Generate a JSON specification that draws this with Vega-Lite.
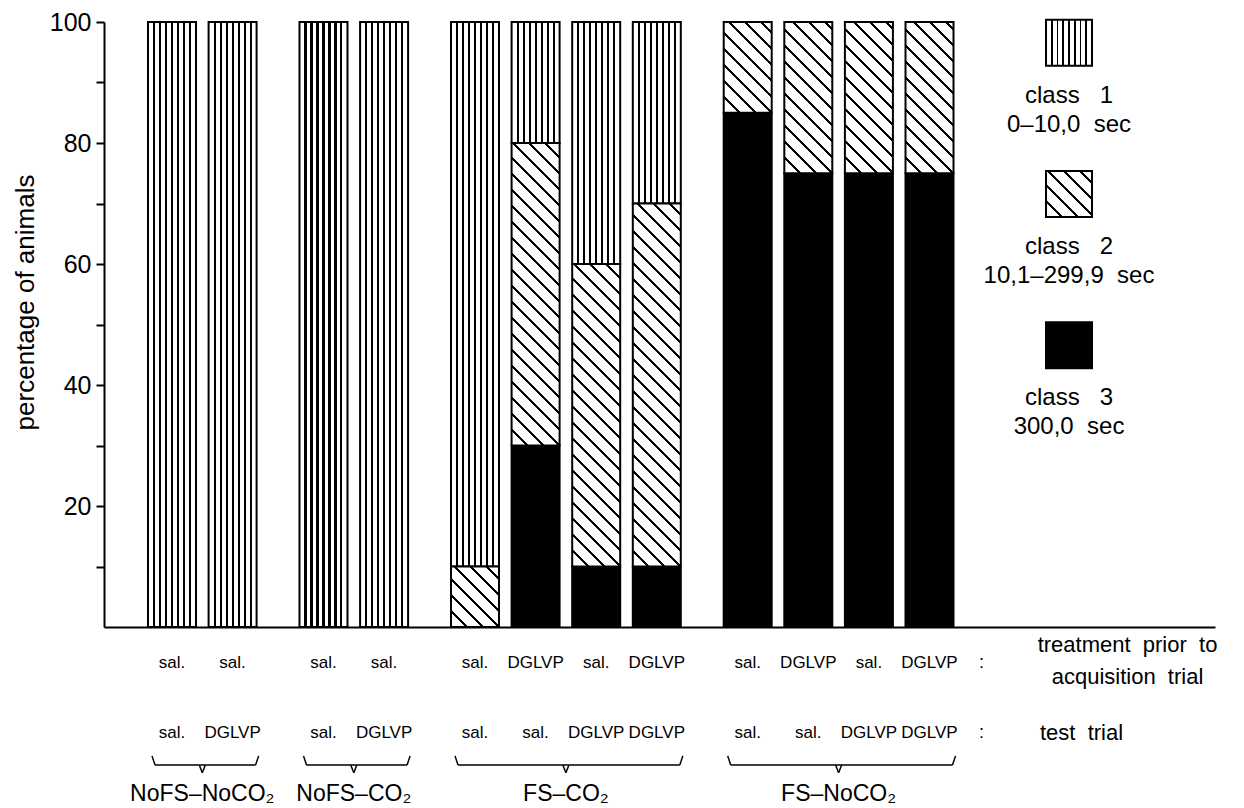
{
"$schema": "https://vega.github.io/schema/vega-lite/v6.json",
"width": 1111,
"height": 605,
"autosize": {"type": "none"},
"padding": {"left": 104, "top": 22, "right": 29, "bottom": 181},
"background": "white",
"config": {"view": {"stroke": null}, "font": "Liberation Sans", "text": {"color": "black"}},
"params": [
{"name": "vs", "value": [
{"offset":0,"color":"#fff"},
{"offset":0.104,"color":"#fff"},{"offset":0.104,"color":"#000"},{"offset":0.146,"color":"#000"},{"offset":0.146,"color":"#fff"},
{"offset":0.229,"color":"#fff"},{"offset":0.229,"color":"#000"},{"offset":0.271,"color":"#000"},{"offset":0.271,"color":"#fff"},
{"offset":0.354,"color":"#fff"},{"offset":0.354,"color":"#000"},{"offset":0.396,"color":"#000"},{"offset":0.396,"color":"#fff"},
{"offset":0.479,"color":"#fff"},{"offset":0.479,"color":"#000"},{"offset":0.521,"color":"#000"},{"offset":0.521,"color":"#fff"},
{"offset":0.604,"color":"#fff"},{"offset":0.604,"color":"#000"},{"offset":0.646,"color":"#000"},{"offset":0.646,"color":"#fff"},
{"offset":0.729,"color":"#fff"},{"offset":0.729,"color":"#000"},{"offset":0.771,"color":"#000"},{"offset":0.771,"color":"#fff"},
{"offset":0.854,"color":"#fff"},{"offset":0.854,"color":"#000"},{"offset":0.896,"color":"#000"},{"offset":0.896,"color":"#fff"},
{"offset":1,"color":"#fff"}]},
{"name": "hs", "value": [
{"offset":0,"color":"#fff"},
{"offset":0.0351,"color":"#fff"},{"offset":0.0351,"color":"#000"},{"offset":0.0419,"color":"#000"},{"offset":0.0419,"color":"#fff"},
{"offset":0.0735,"color":"#fff"},{"offset":0.0735,"color":"#000"},{"offset":0.0803,"color":"#000"},{"offset":0.0803,"color":"#fff"},
{"offset":0.1120,"color":"#fff"},{"offset":0.1120,"color":"#000"},{"offset":0.1188,"color":"#000"},{"offset":0.1188,"color":"#fff"},
{"offset":0.1505,"color":"#fff"},{"offset":0.1505,"color":"#000"},{"offset":0.1573,"color":"#000"},{"offset":0.1573,"color":"#fff"},
{"offset":0.1889,"color":"#fff"},{"offset":0.1889,"color":"#000"},{"offset":0.1957,"color":"#000"},{"offset":0.1957,"color":"#fff"},
{"offset":0.2274,"color":"#fff"},{"offset":0.2274,"color":"#000"},{"offset":0.2342,"color":"#000"},{"offset":0.2342,"color":"#fff"},
{"offset":0.2658,"color":"#fff"},{"offset":0.2658,"color":"#000"},{"offset":0.2726,"color":"#000"},{"offset":0.2726,"color":"#fff"},
{"offset":0.3043,"color":"#fff"},{"offset":0.3043,"color":"#000"},{"offset":0.3111,"color":"#000"},{"offset":0.3111,"color":"#fff"},
{"offset":0.3428,"color":"#fff"},{"offset":0.3428,"color":"#000"},{"offset":0.3496,"color":"#000"},{"offset":0.3496,"color":"#fff"},
{"offset":0.3812,"color":"#fff"},{"offset":0.3812,"color":"#000"},{"offset":0.3880,"color":"#000"},{"offset":0.3880,"color":"#fff"},
{"offset":0.4197,"color":"#fff"},{"offset":0.4197,"color":"#000"},{"offset":0.4265,"color":"#000"},{"offset":0.4265,"color":"#fff"},
{"offset":0.4581,"color":"#fff"},{"offset":0.4581,"color":"#000"},{"offset":0.4649,"color":"#000"},{"offset":0.4649,"color":"#fff"},
{"offset":0.4966,"color":"#fff"},{"offset":0.4966,"color":"#000"},{"offset":0.5034,"color":"#000"},{"offset":0.5034,"color":"#fff"},
{"offset":0.5351,"color":"#fff"},{"offset":0.5351,"color":"#000"},{"offset":0.5419,"color":"#000"},{"offset":0.5419,"color":"#fff"},
{"offset":0.5735,"color":"#fff"},{"offset":0.5735,"color":"#000"},{"offset":0.5803,"color":"#000"},{"offset":0.5803,"color":"#fff"},
{"offset":0.6120,"color":"#fff"},{"offset":0.6120,"color":"#000"},{"offset":0.6188,"color":"#000"},{"offset":0.6188,"color":"#fff"},
{"offset":0.6505,"color":"#fff"},{"offset":0.6505,"color":"#000"},{"offset":0.6573,"color":"#000"},{"offset":0.6573,"color":"#fff"},
{"offset":0.6889,"color":"#fff"},{"offset":0.6889,"color":"#000"},{"offset":0.6957,"color":"#000"},{"offset":0.6957,"color":"#fff"},
{"offset":0.7274,"color":"#fff"},{"offset":0.7274,"color":"#000"},{"offset":0.7342,"color":"#000"},{"offset":0.7342,"color":"#fff"},
{"offset":0.7658,"color":"#fff"},{"offset":0.7658,"color":"#000"},{"offset":0.7726,"color":"#000"},{"offset":0.7726,"color":"#fff"},
{"offset":0.8043,"color":"#fff"},{"offset":0.8043,"color":"#000"},{"offset":0.8111,"color":"#000"},{"offset":0.8111,"color":"#fff"},
{"offset":0.8428,"color":"#fff"},{"offset":0.8428,"color":"#000"},{"offset":0.8496,"color":"#000"},{"offset":0.8496,"color":"#fff"},
{"offset":0.8812,"color":"#fff"},{"offset":0.8812,"color":"#000"},{"offset":0.8880,"color":"#000"},{"offset":0.8880,"color":"#fff"},
{"offset":0.9197,"color":"#fff"},{"offset":0.9197,"color":"#000"},{"offset":0.9265,"color":"#000"},{"offset":0.9265,"color":"#fff"},
{"offset":0.9581,"color":"#fff"},{"offset":0.9581,"color":"#000"},{"offset":0.9649,"color":"#000"},{"offset":0.9649,"color":"#fff"},
{"offset":1,"color":"#fff"}]}
],
"datasets": {
"seg": [
{"bar":"A1","cls":1,"pct":100},
{"bar":"A2","cls":1,"pct":100},
{"bar":"B1","cls":1,"pct":100},
{"bar":"B2","cls":1,"pct":100},
{"bar":"C1","cls":2,"pct":10},
{"bar":"C1","cls":1,"pct":90},
{"bar":"C2","cls":3,"pct":30},
{"bar":"C2","cls":2,"pct":50},
{"bar":"C2","cls":1,"pct":20},
{"bar":"C3","cls":3,"pct":10},
{"bar":"C3","cls":2,"pct":50},
{"bar":"C3","cls":1,"pct":40},
{"bar":"C4","cls":3,"pct":10},
{"bar":"C4","cls":2,"pct":60},
{"bar":"C4","cls":1,"pct":30},
{"bar":"D1","cls":3,"pct":85},
{"bar":"D1","cls":2,"pct":15},
{"bar":"D2","cls":3,"pct":75},
{"bar":"D2","cls":2,"pct":25},
{"bar":"D3","cls":3,"pct":75},
{"bar":"D3","cls":2,"pct":25},
{"bar":"D4","cls":3,"pct":75},
{"bar":"D4","cls":2,"pct":25}
],
"bars": [
{"bar":"A1","prior":"sal.","test":"sal."},
{"bar":"A2","prior":"sal.","test":"DGLVP"},
{"bar":"B1","prior":"sal.","test":"sal."},
{"bar":"B2","prior":"sal.","test":"DGLVP"},
{"bar":"C1","prior":"sal.","test":"sal."},
{"bar":"C2","prior":"DGLVP","test":"sal."},
{"bar":"C3","prior":"sal.","test":"DGLVP"},
{"bar":"C4","prior":"DGLVP","test":"DGLVP"},
{"bar":"D1","prior":"sal.","test":"sal."},
{"bar":"D2","prior":"DGLVP","test":"sal."},
{"bar":"D3","prior":"sal.","test":"DGLVP"},
{"bar":"D4","prior":"DGLVP","test":"DGLVP"}
],
"groups": [
{"name":"NoFS–NoCO₂","first":"A1","mid":"A·","last":"A2"},
{"name":"NoFS–CO₂","first":"B1","mid":"B·","last":"B2"},
{"name":"FS–CO₂","first":"C1","mid":"C·","last":"C4"},
{"name":"FS–NoCO₂","first":"D1","mid":"D·","last":"D4"}
],
"legend": [
{"cls":"class 1","label":"class\u00a0\u00a0\u00a01\n0–10,0\u00a0\u00a0sec"},
{"cls":"class 2","label":"class\u00a0\u00a0\u00a02\n10,1–299,9\u00a0\u00a0sec"},
{"cls":"class 3","label":"class\u00a0\u00a0\u00a03\n300,0\u00a0\u00a0sec"}
]
},
"layer": [
{
"encoding": {
"x": {"field": "bar", "type": "nominal", "scale": {"domain": ["s0","A1","A·","A2","s1","s2","B1","B·","B2","s3","s4","C1","s5","C2","C·","C3","s6","C4","s7","s8","D1","s9","D2","D·","D3","s10","D4","t1","t2","t3","t4","t5","t6","t7","t8"], "paddingInner": 0, "paddingOuter": 0.833, "align": 0.4465, "round": false}, "axis": {"title": null, "labels": false, "ticks": false, "domainColor": "black", "domainWidth": 2}}
},
"layer": [
{
"data": {"name": "seg"},
"transform": [{"stack": "pct", "groupby": ["bar"], "sort": [{"field": "cls", "order": "descending"}], "as": ["lo", "hi"]}],
"encoding": {
"y": {"field": "lo", "type": "quantitative", "scale": {"domain": [0, 100], "nice": false}, "axis": {"title": "percentage of animals", "values": [10,20,30,40,50,60,70,80,90,100], "labelExpr": "datum.value % 20 === 0 ? datum.label : ''", "grid": false, "tickSize": 8, "tickWidth": 2, "tickColor": "black", "domainColor": "black", "domainWidth": 2, "labelFontSize": 25, "labelColor": "black", "labelPadding": 5, "titleFontSize": 26, "titleFontWeight": "normal", "titleColor": "black", "titleX": -71, "titleY": 280, "titleAngle": 270, "titleAlign": "center", "titleBaseline": "alphabetic"}},
"y2": {"field": "hi"}
},
"layer": [
{"transform": [{"filter": "datum.cls === 1"}], "mark": {"type": "bar", "width": {"band": 1.584}, "fill": {"expr": "{gradient: 'linear', x1: 0, y1: 0, x2: 1, y2: 0, stops: vs}"}, "stroke": "black", "strokeWidth": 2}},
{"transform": [{"filter": "datum.cls === 3"}], "mark": {"type": "bar", "width": {"band": 1.584}, "fill": "black", "stroke": "black", "strokeWidth": 2}},
{"transform": [{"filter": "datum.cls === 2 && datum.pct === 10"}], "mark": {"type": "bar", "width": {"band": 1.584}, "fill": {"expr": "{gradient: 'linear', x1: 0, y1: 1, x2: 3.348, y2: -3.220, stops: hs}"}, "stroke": "black", "strokeWidth": 2}},
{"transform": [{"filter": "datum.cls === 2 && datum.pct === 15"}], "mark": {"type": "bar", "width": {"band": 1.584}, "fill": {"expr": "{gradient: 'linear', x1: 0, y1: 1, x2: 1.8946, y2: -2.5819, stops: hs}"}, "stroke": "black", "strokeWidth": 2}},
{"transform": [{"filter": "datum.cls === 2 && datum.pct === 25"}], "mark": {"type": "bar", "width": {"band": 1.584}, "fill": {"expr": "{gradient: 'linear', x1: 0, y1: 1, x2: 0.7930, y2: -1.4988, stops: hs}"}, "stroke": "black", "strokeWidth": 2}},
{"transform": [{"filter": "datum.cls === 2 && datum.pct === 50"}], "mark": {"type": "bar", "width": {"band": 1.584}, "fill": {"expr": "{gradient: 'linear', x1: 0, y1: 1, x2: 0.21286, y2: -0.34143, stops: hs}"}, "stroke": "black", "strokeWidth": 2}},
{"transform": [{"filter": "datum.cls === 2 && datum.pct === 60"}], "mark": {"type": "bar", "width": {"band": 1.584}, "fill": {"expr": "{gradient: 'linear', x1: 0, y1: 1, x2: 0.14893, y2: -0.12631, stops: hs}"}, "stroke": "black", "strokeWidth": 2}}
]
},
{
"data": {"name": "bars"},
"layer": [
{"mark": {"type": "text", "fontSize": 17, "baseline": "middle"}, "encoding": {"x": {"field": "bar", "type": "nominal"}, "y": {"datum": -5.95}, "text": {"field": "prior"}}},
{"mark": {"type": "text", "fontSize": 17, "baseline": "middle"}, "encoding": {"x": {"field": "bar", "type": "nominal"}, "y": {"datum": -17.52}, "text": {"field": "test"}}}
]
},
{
"data": {"name": "groups"},
"layer": [
{"mark": {"type": "text", "fontSize": 23, "baseline": "middle"}, "encoding": {"x": {"field": "mid", "type": "nominal"}, "y": {"datum": -27.6}, "text": {"field": "name"}}},
{"mark": {"type": "rule", "strokeWidth": 1.5, "color": "black"}, "encoding": {"x": {"field": "first", "type": "nominal", "bandPosition": -0.061}, "x2": {"field": "last", "bandPosition": 1.259}, "y": {"datum": -22.8}}},
{"mark": {"type": "rule", "strokeWidth": 1.5, "color": "black"}, "encoding": {"x": {"field": "first", "type": "nominal", "bandPosition": -0.16}, "x2": {"field": "first", "bandPosition": -0.061}, "y": {"datum": -21.3}, "y2": {"datum": -22.8}}},
{"mark": {"type": "rule", "strokeWidth": 1.5, "color": "black"}, "encoding": {"x": {"field": "last", "type": "nominal", "bandPosition": 1.259}, "x2": {"field": "last", "bandPosition": 1.36}, "y": {"datum": -22.8}, "y2": {"datum": -21.3}}},
{"mark": {"type": "rule", "strokeWidth": 1.5, "color": "black"}, "encoding": {"x": {"field": "mid", "type": "nominal", "bandPosition": 0.4}, "x2": {"field": "mid", "bandPosition": 0.5}, "y": {"datum": -22.8}, "y2": {"datum": -24.1}}},
{"mark": {"type": "rule", "strokeWidth": 1.5, "color": "black"}, "encoding": {"x": {"field": "mid", "type": "nominal", "bandPosition": 0.5}, "x2": {"field": "mid", "bandPosition": 0.6}, "y": {"datum": -24.1}, "y2": {"datum": -22.8}}}
]
},
{
"data": {"values": [{}]},
"layer": [
{"mark": {"type": "text", "text": "treatment\u00a0\u00a0prior\u00a0\u00a0to\nacquisition\u00a0\u00a0trial", "lineBreak": "\n", "lineHeight": 32, "fontSize": 22, "baseline": "middle", "dx": 198}, "encoding": {"x": {"datum": "D4", "type": "nominal"}, "y": {"datum": -2.98}}},
{"mark": {"type": "text", "text": "test\u00a0\u00a0trial", "fontSize": 22, "baseline": "middle", "dx": 152}, "encoding": {"x": {"datum": "D4", "type": "nominal"}, "y": {"datum": -17.52}}},
{"mark": {"type": "text", "text": ":", "fontSize": 18, "baseline": "middle", "dx": 52}, "encoding": {"x": {"datum": "D4", "type": "nominal"}, "y": {"datum": -5.95}}},
{"mark": {"type": "text", "text": ":", "fontSize": 18, "baseline": "middle", "dx": 52}, "encoding": {"x": {"datum": "D4", "type": "nominal"}, "y": {"datum": -17.52}}}
]
}
]
},
{
"data": {"name": "legend"},
"encoding": {
"x": {"datum": "L", "type": "nominal", "scale": {"type": "point", "align": 0.8686}, "axis": null},
"y": {"field": "cls", "type": "nominal", "scale": {"type": "point", "padding": 1, "align": 0.069}, "axis": null}
},
"layer": [
{"transform": [{"filter": "datum.cls === 'class 1'"}], "mark": {"type": "point", "shape": "square", "size": 2116, "filled": true, "opacity": 1, "fill": {"expr": "{gradient: 'linear', x1: 0, y1: 0, x2: 1, y2: 0, stops: vs}"}, "stroke": "black", "strokeWidth": 2}},
{"transform": [{"filter": "datum.cls === 'class 2'"}], "mark": {"type": "point", "shape": "square", "size": 2116, "filled": true, "opacity": 1, "fill": {"expr": "{gradient: 'linear', x1: 0, y1: 1, x2: 4.5217, y2: -3.5217, stops: hs}"}, "stroke": "black", "strokeWidth": 2}},
{"transform": [{"filter": "datum.cls === 'class 3'"}], "mark": {"type": "point", "shape": "square", "size": 2116, "filled": true, "opacity": 1, "fill": "black", "stroke": "black", "strokeWidth": 2}},
{"mark": {"type": "text", "lineBreak": "\n", "lineHeight": 29, "fontSize": 24, "baseline": "middle", "dy": 53}, "encoding": {"text": {"field": "label"}}}
]
}
],
"resolve": {"scale": {"x": "independent", "y": "independent"}}
}
